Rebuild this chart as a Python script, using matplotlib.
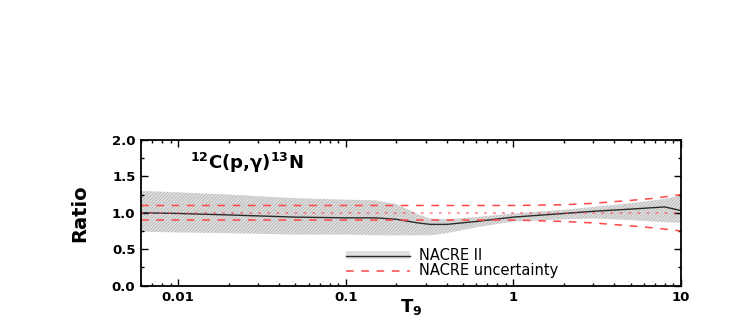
import numpy as np
import matplotlib.pyplot as plt
from matplotlib.patches import Patch
from matplotlib.lines import Line2D
from matplotlib.ticker import LogLocator, MultipleLocator, FixedFormatter, FixedLocator

# NACRE II ratio and its uncertainty band
T9 = [0.006, 0.01, 0.02, 0.05, 0.1, 0.15, 0.2, 0.27, 0.32, 0.4, 0.6, 1.0, 2.0, 3.0, 5.0, 8.0, 10.0]
ratio = [1.00, 0.99, 0.97, 0.94, 0.93, 0.93, 0.91, 0.86, 0.84, 0.84, 0.88, 0.94, 0.99, 1.02, 1.05, 1.08, 1.03]
band_hi = [1.30, 1.28, 1.25, 1.20, 1.18, 1.17, 1.12, 0.98, 0.92, 0.91, 0.94, 0.99, 1.04, 1.08, 1.13, 1.19, 1.24]
band_lo = [0.74, 0.73, 0.72, 0.70, 0.70, 0.69, 0.69, 0.69, 0.69, 0.72, 0.80, 0.88, 0.91, 0.92, 0.90, 0.87, 0.86]

# NACRE uncertainty
T9_nacre = [0.006, 1.0, 2.0, 3.0, 5.0, 7.0, 10.0]
nacre_hi = [1.10, 1.10, 1.11, 1.13, 1.17, 1.20, 1.25]
nacre_lo = [0.90, 0.90, 0.88, 0.86, 0.82, 0.79, 0.75]
nacre_mid = [1.0, 1.0, 1.0, 1.0, 1.0, 1.0, 1.0]

xtick_vals = [0.01, 0.1, 1, 10]
xtick_labels = ['0.01', '0.1', '1', '10']

plt.rcParams['font.family'] = ['DejaVu Sans']
plt.rcParams['mathtext.fontset'] = 'dejavusans'
plt.rcParams['hatch.color'] = '#b0b0b0'
plt.rcParams['hatch.linewidth'] = 0.5

fig = plt.figure(figsize=(7.47, 3.2), dpi=100)
ax = fig.add_axes([0.1888, 0.1078, 0.7228, 0.4547])

band_face = '#e0e0e0'
ax.fill_between(T9, band_lo, band_hi, facecolor=band_face, edgecolor='none',
                hatch='//////////', linewidth=0)
ax.plot(T9, ratio, color='#2a2a2a', lw=1.0)

red = '#ff4545'
ax.plot(T9_nacre, nacre_hi, color=red, lw=1.1, ls=(0, (5, 5)))
ax.plot(T9_nacre, nacre_lo, color=red, lw=1.1, ls=(0, (5, 5)))
ax.plot(T9_nacre, nacre_mid, color=red, lw=1.3, ls=(0, (1.5, 3.5)), alpha=0.6)

ax.set_xscale('log')
ax.set_xlim(0.006, 10)
ax.set_ylim(0, 2.0)

ax.xaxis.set_major_locator(FixedLocator(xtick_vals))
ax.xaxis.set_major_formatter(FixedFormatter(xtick_labels))
ax.xaxis.set_minor_locator(LogLocator(base=10, subs=np.arange(2, 10), numticks=20))
ax.xaxis.set_minor_formatter(plt.NullFormatter())
ax.yaxis.set_major_locator(MultipleLocator(0.5))
ax.yaxis.set_minor_locator(MultipleLocator(0.25))
ax.yaxis.set_major_formatter(plt.FuncFormatter(lambda v, p: '%.1f' % v))

ax.tick_params(which='both', direction='in', top=True, right=True, width=1.0)
ax.tick_params(which='major', length=5, labelsize=9.5, pad=4)
ax.tick_params(which='minor', length=2.5)
for lab in ax.get_xticklabels() + ax.get_yticklabels():
    lab.set_fontweight('bold')
for sp in ax.spines.values():
    sp.set_linewidth(1.3)

ax.set_ylabel('Ratio', fontsize=14, fontweight='bold', labelpad=16)
ax.set_xlabel(r'$\mathbf{T_9}$', fontsize=13, labelpad=-5)

ax.text(0.09, 0.84, r'$^{\mathbf{12}}$C(p,γ)$^{\mathbf{13}}$N',
        transform=ax.transAxes, fontsize=13, fontweight='bold', va='center')

h1 = (Patch(facecolor=band_face, edgecolor='none', hatch='//////////'),
      Line2D([], [], color='#2a2a2a', lw=1.0))
h2 = Line2D([], [], color=red, lw=1.1, ls=(0, (5, 5)))
ax.legend([h1, h2], ['NACRE II', 'NACRE uncertainty'], loc='lower left',
          bbox_to_anchor=(0.36, -0.02), frameon=False, fontsize=10.5,
          handlelength=4.4, handletextpad=0.6, labelspacing=0.0,
          handleheight=0.5, borderpad=0.2)

fig.savefig('out.png', dpi=100, facecolor='white')
